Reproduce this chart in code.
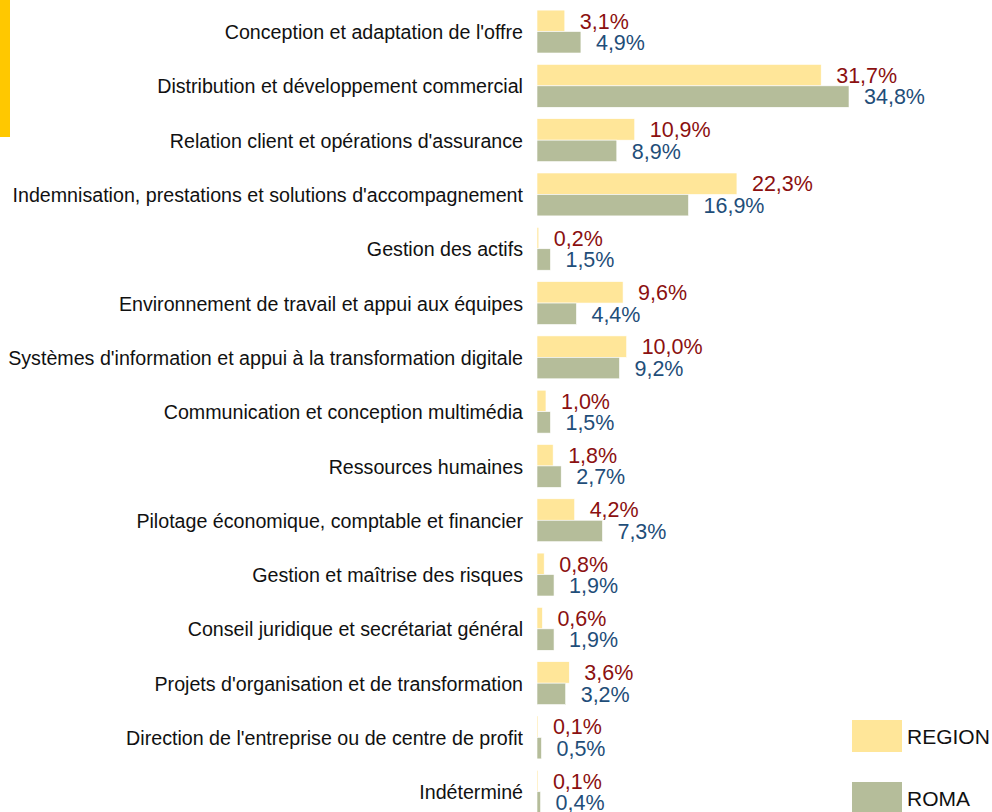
<!DOCTYPE html>
<html>
<head>
<meta charset="utf-8">
<script src="https://cdn.jsdelivr.net/npm/d3@7"></script>
<style>
  body { margin: 0; background: #fff; }
  svg { display: block; }
  text { font-family: "Liberation Sans", Arial, sans-serif; }
</style>
</head>
<body>
<script>
var categories = [
  "Conception et adaptation de l'offre",
  "Distribution et développement commercial",
  "Relation client et opérations d'assurance",
  "Indemnisation, prestations et solutions d'accompagnement",
  "Gestion des actifs",
  "Environnement de travail et appui aux équipes",
  "Systèmes d'information et appui à la transformation digitale",
  "Communication et conception multimédia",
  "Ressources humaines",
  "Pilotage économique, comptable et financier",
  "Gestion et maîtrise des risques",
  "Conseil juridique et secrétariat général",
  "Projets d'organisation et de transformation",
  "Direction de l'entreprise ou de centre de profit",
  "Indéterminé"
];
var regionValues = [3.1, 31.7, 10.9, 22.3, 0.2, 9.6, 10.0, 1.0, 1.8, 4.2, 0.8, 0.6, 3.6, 0.1, 0.1];
var romaValues = [4.9, 34.8, 8.9, 16.9, 1.5, 4.4, 9.2, 1.5, 2.7, 7.3, 1.9, 1.9, 3.2, 0.5, 0.4];
var seriesNames = ["REGION", "ROMA"];

var w = 992;
var h = 812;
var barLeft = 537;
var colors = { REGION: '#FFE699', ROMA: '#B5BD9A' };
var labelColors = { REGION: '#8B1010', ROMA: '#1F4E79' };

var svg = d3
  .select('body')
  .append('svg')
  .attr('width', w)
  .attr('height', h);

// yellow accent strip on the left edge
svg
  .append('rect')
  .attr('x', 0)
  .attr('y', 0)
  .attr('width', 10)
  .attr('height', 137)
  .attr('fill', '#FFC800');

var xScale = d3
  .scaleLinear()
  .domain([0, 34.8])
  .range([barLeft, 849]);

var yScale = d3
  .scaleBand()
  .domain(categories)
  .range([4.4, 4.4 + 54.3 * categories.length])
  .paddingInner(0.21)
  .paddingOuter(0.105);

var inner = d3
  .scaleBand()
  .domain(seriesNames)
  .range([0, yScale.bandwidth()]);

var rows = categories.map((c, i) => ({
  cat: c,
  values: [
    { key: 'REGION', v: regionValues[i] },
    { key: 'ROMA', v: romaValues[i] }
  ]
}));

var groups = svg
  .append('g')
  .selectAll('g')
  .data(rows)
  .enter()
  .append('g')
  .attr('transform', d => `translate(0, ${yScale(d.cat)})`);

groups
  .selectAll('rect')
  .data(d => d.values)
  .enter()
  .append('rect')
  .attr('x', xScale(0))
  .attr('y', d => inner(d.key))
  .attr('width', d => Math.max(1, xScale(d.v) - xScale(0)))
  .attr('height', inner.bandwidth())
  .attr('fill', d => colors[d.key])
  .attr('stroke', '#fff')
  .attr('stroke-width', 0.6);

groups
  .selectAll('text.val')
  .data(d => d.values)
  .enter()
  .append('text')
  .attr('class', 'val')
  .attr('x', d => xScale(d.v) + 15)
  .attr('y', d => inner(d.key) + inner.bandwidth() / 2)
  .attr('dy', '0.36em')
  .attr('font-size', 21.5)
  .attr('fill', d => labelColors[d.key])
  .text(d => d.v.toFixed(1).replace('.', ',') + '%');

// category labels, slightly condensed like the original narrow font
svg
  .append('g')
  .selectAll('text')
  .data(categories)
  .enter()
  .append('text')
  .attr('transform', d => `translate(523, ${yScale(d) + yScale.bandwidth() / 2}) scale(0.936, 1)`)
  .attr('dy', '0.36em')
  .attr('text-anchor', 'end')
  .attr('font-size', 21)
  .attr('fill', '#111')
  .text(d => d);

// legend
var legend = svg
  .append('g')
  .selectAll('g')
  .data(seriesNames)
  .enter()
  .append('g')
  .attr('transform', (d, i) => `translate(852, ${720 + i * 62})`);

legend
  .append('rect')
  .attr('width', 50)
  .attr('height', 32)
  .attr('fill', d => colors[d]);

legend
  .append('text')
  .attr('x', 55)
  .attr('y', 16)
  .attr('dy', '0.36em')
  .attr('font-size', 21)
  .attr('fill', '#111')
  .text(d => d);
</script>
</body>
</html>
